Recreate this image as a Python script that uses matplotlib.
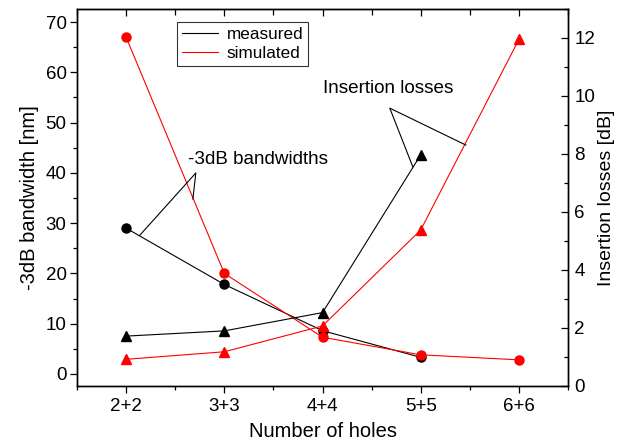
import matplotlib
matplotlib.use("Agg")
import matplotlib.pyplot as plt
import numpy as np
from matplotlib.ticker import MultipleLocator, FixedLocator

plt.rcParams["font.family"] = ["Liberation Sans", "DejaVu Sans"]

# Data
holes = ["2+2", "3+3", "4+4", "5+5", "6+6"]
bw_measured = [29.0, 17.8, 8.6, 3.3]          # -3dB bandwidth [nm], 2+2 .. 5+5
bw_simulated = [67.0, 20.0, 7.3, 3.8, 2.8]    # 2+2 .. 6+6
il_measured = [1.72, 1.9, 2.53, 7.97]         # insertion losses [dB], 2+2 .. 5+5
il_simulated = [0.92, 1.18, 2.07, 5.38, 11.95]

x = np.arange(len(holes))

fig = plt.figure(figsize=(6.17, 4.47), dpi=100)
ax = fig.add_axes([0.1248, 0.1365, 0.7958, 0.8434])
ax2 = ax.twinx()

lw = 0.8
ms = 6.5

# bandwidths (circles, left axis)
ax.plot(x[:len(bw_measured)], bw_measured, "o-", color="black", lw=lw, ms=ms, zorder=3)
ax.plot(x, bw_simulated, "o-", color="red", lw=lw, ms=ms, zorder=4)

# insertion losses (triangles, right axis)
ax2.plot(x[:len(il_measured)], il_measured, "^-", color="black", lw=lw, ms=ms + 0.5, zorder=3)
ax2.plot(x, il_simulated, "^-", color="red", lw=lw, ms=ms + 0.5, zorder=4)

# axis limits
ax.set_xlim(-0.5, 4.5)
ax.set_ylim(-2.4, 72.6)
ax2.set_ylim(0, 13)

# ticks
ax.set_xticks(x)
ax.set_xticklabels(holes)
ax.xaxis.set_minor_locator(FixedLocator(np.arange(-0.5, 4.6, 1.0)))
ax.yaxis.set_major_locator(MultipleLocator(10))
ax.yaxis.set_minor_locator(MultipleLocator(5))
ax2.yaxis.set_major_locator(MultipleLocator(2))
ax2.yaxis.set_minor_locator(MultipleLocator(1))

ax.tick_params(axis="x", which="both", direction="out", top=False, labelsize=13.5, pad=4)
ax.tick_params(axis="y", which="both", direction="out", right=False, labelsize=13.5, pad=2.5)
ax.tick_params(which="major", length=5, width=0.9)
ax.tick_params(which="minor", length=3, width=0.9)
ax2.tick_params(axis="y", which="both", direction="in", labelsize=13.5, pad=4.5)
ax2.tick_params(which="major", length=5, width=0.9)
ax2.tick_params(which="minor", length=3, width=0.9)

# top inward ticks
top = ax.secondary_xaxis("top")
top.set_xticks(x)
top.xaxis.set_minor_locator(FixedLocator(np.arange(-0.5, 4.6, 1.0)))
top.tick_params(which="both", direction="in", labeltop=False, width=0.9)
top.tick_params(which="major", length=5)
top.tick_params(which="minor", length=4)

for a in (ax, ax2):
    for s in a.spines.values():
        s.set_linewidth(1.0)

ax.set_xlabel("Number of holes", fontsize=14.5, labelpad=5)
ax.set_ylabel("-3dB bandwidth [nm]", fontsize=14.5, labelpad=5)
ax2.set_ylabel("Insertion losses [dB]", fontsize=14, labelpad=2)

# legend
handles = [plt.Line2D([], [], color="black", lw=lw), plt.Line2D([], [], color="red", lw=lw)]
leg = ax2.legend(handles, ["measured", "simulated"], loc="upper left",
                 bbox_to_anchor=(0.204, 0.966), fontsize=12.3, frameon=True,
                 fancybox=False, edgecolor="black", handlelength=2.1,
                 borderpad=0.3, labelspacing=0.25, handletextpad=0.5, borderaxespad=0)
leg.get_frame().set_linewidth(0.8)

# annotations (axes fraction)
T = ax2.transAxes
ax2.text(0.226, 0.60, "-3dB bandwidths", transform=T, fontsize=13.6, va="center", ha="left")
ax2.plot([0.236, 0.242, 0.128], [0.496, 0.565, 0.400], color="black", lw=0.8, transform=T, zorder=5)
ax2.text(0.501, 0.788, "Insertion losses", transform=T, fontsize=13.6, va="center", ha="left")
ax2.plot([0.792, 0.637, 0.684], [0.639, 0.737, 0.581], color="black", lw=0.8, transform=T, zorder=5)

fig.savefig("out.png", dpi=100)
